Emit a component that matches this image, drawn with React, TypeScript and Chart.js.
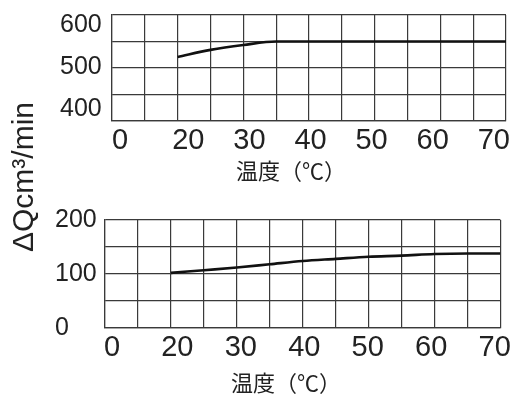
import React, { useEffect, useRef } from 'react';
import { Chart, registerables } from 'chart.js';

Chart.register(...registerables);

// ---- data ----
const tempTop = [20, 25, 30, 35, 40, 45, 50, 55, 60, 65, 70];
const flowTop = [525, 541, 552, 560, 560, 560, 560, 560, 560, 560, 560];
const tempBottom = [20, 25, 30, 35, 40, 45, 50, 55, 60, 65, 70];
const flowBottom = [102, 107, 112, 118, 124, 128, 132, 134, 137, 138, 138];

const xTickValues = [0, 20, 30, 40, 50, 60, 70];
const xTickLabels = ['0', '20', '30', '40', '50', '60', '70'];
const yTopTicks = [400, 500, 600];
const yBottomTicks = [0, 100, 200];

const xTitle = '温度（℃）';
const yTitle = 'ΔQcm³/min';

const FONT = "'Liberation Sans', Arial, sans-serif";
const GRID = '#3a3a3a';
const TEXT = '#222';

type Spec = {
  temps: number[];
  flows: number[];
  yMin: number;
  yMax: number;
  yStep: number;
  yTicks: number[];
  ylMin: number;
  ylMax: number;
  xlMin: number;
  xlMax: number;
  xBreak: number;
  padding: { top: number; left: number; right: number; bottom: number };
  labelAxisHeight: number;
  yAxisWidth: number;
};

function LineGridChart({ spec, width, height }: { spec: Spec; width: number; height: number }) {
  const ref = useRef<HTMLCanvasElement | null>(null);
  useEffect(() => {
    if (!ref.current) return;
    const chart = new Chart(ref.current, {
      type: 'line',
      data: {
        datasets: [
          {
            data: spec.temps.map((t, i) => ({ x: t, y: spec.flows[i] })),
            xAxisID: 'x',
            yAxisID: 'y',
            borderColor: '#111',
            borderWidth: 2.6,
            pointRadius: 0,
            fill: false,
            cubicInterpolationMode: 'monotone',
          },
        ],
      },
      options: {
        animation: false,
        responsive: false,
        layout: { padding: spec.padding },
        plugins: { legend: { display: false }, tooltip: { enabled: false } },
        scales: {
          x: {
            type: 'linear',
            position: 'bottom',
            weight: 0,
            min: 10,
            max: 70,
            ticks: { stepSize: 5, display: false },
            grid: { color: GRID, lineWidth: 1.2, drawTicks: false },
            border: { color: GRID, width: 1.2 },
            afterFit: (s: any) => { s.height = 0; },
          },
          xl: {
            type: 'linear',
            position: 'bottom',
            weight: 1,
            min: spec.xlMin,
            max: spec.xlMax,
            grid: { display: false, drawTicks: false },
            border: { display: false },
            ticks: {
              autoSkip: false,
              maxRotation: 0,
              padding: 3,
              color: TEXT,
              font: { size: 29, family: FONT },
              callback: (_v: any, i: number) => xTickLabels[i],
            },
            afterBuildTicks: (s: any) => {
              s.ticks = xTickValues.map((v) => ({ value: v === 0 ? spec.xBreak : v }));
            },
            afterFit: (s: any) => { s.height = spec.labelAxisHeight; },
          },
          y: {
            type: 'linear',
            position: 'left',
            weight: 0,
            min: spec.yMin,
            max: spec.yMax,
            ticks: { stepSize: spec.yStep, display: false },
            grid: { color: GRID, lineWidth: 1.2, drawTicks: false },
            border: { color: GRID, width: 1.2 },
            afterFit: (s: any) => { s.width = 0; },
          },
          yl: {
            type: 'linear',
            position: 'left',
            weight: 1,
            min: spec.ylMin,
            max: spec.ylMax,
            grid: { display: false, drawTicks: false },
            border: { display: false },
            ticks: {
              crossAlign: 'far',
              padding: 0,
              color: TEXT,
              font: { size: 25, family: FONT },
            },
            afterBuildTicks: (s: any) => {
              s.ticks = spec.yTicks.map((v) => ({ value: v }));
            },
            afterFit: (s: any) => { s.width = spec.yAxisWidth; },
          },
        },
      } as any,
    });
    return () => chart.destroy();
  }, [spec]);
  return <canvas ref={ref} width={width} height={height} style={{ display: 'block' }} />;
}

const topSpec: Spec = {
  temps: tempTop,
  flows: flowTop,
  yMin: 380,
  yMax: 620,
  yStep: 60,
  yTicks: yTopTicks,
  ylMin: 371,
  ylMax: 624,
  xlMin: 7.5,
  xlMax: 72,
  xBreak: 8.8,
  padding: { top: 13, left: 60, right: 8, bottom: 16 },
  labelAxisHeight: 60,
  yAxisWidth: 52,
};

const bottomSpec: Spec = {
  temps: tempBottom,
  flows: flowBottom,
  yMin: 0,
  yMax: 200,
  yStep: 50,
  yTicks: yBottomTicks,
  ylMin: 0,
  ylMax: 200,
  xlMin: 8.6,
  xlMax: 70.9,
  xBreak: 9.7,
  padding: { top: 23, left: 55, right: 13, bottom: 16 },
  labelAxisHeight: 50,
  yAxisWidth: 50,
};

const cjk = "'Noto Sans CJK JP', 'Noto Sans CJK SC', sans-serif";

export default function App() {
  return (
    <div style={{ position: 'absolute', left: 0, top: 0, width: 514, height: 394, background: '#fff', overflow: 'hidden' }}>
      <div style={{ position: 'absolute', left: 0, top: 0 }}>
        <LineGridChart spec={topSpec} width={514} height={197} />
      </div>
      <div style={{ position: 'absolute', left: 0, top: 197 }}>
        <LineGridChart spec={bottomSpec} width={514} height={197} />
      </div>
      <div style={{ position: 'absolute', left: 236, top: 158, font: `22px ${cjk}`, lineHeight: '22px', color: TEXT, whiteSpace: 'nowrap' }}>{xTitle}</div>
      <div style={{ position: 'absolute', left: 231, top: 370, font: `22px ${cjk}`, lineHeight: '22px', color: TEXT, whiteSpace: 'nowrap' }}>{xTitle}</div>
      <div
        style={{
          position: 'absolute',
          left: 7.6,
          top: 252,
          transformOrigin: '0 0',
          transform: 'rotate(-90deg)',
          font: `30px ${FONT}`,
          lineHeight: '30px',
          color: TEXT,
          whiteSpace: 'nowrap',
        }}
      >
        {yTitle}
      </div>
    </div>
  );
}
